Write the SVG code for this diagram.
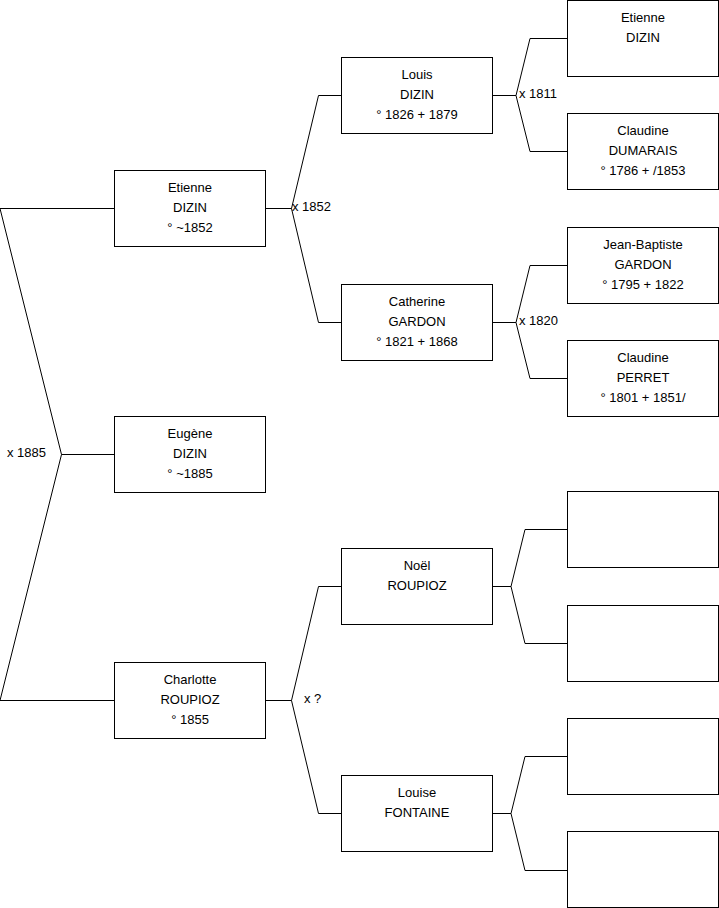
<svg xmlns="http://www.w3.org/2000/svg" width="719" height="908" viewBox="0 0 719 908">
<style>
.box{fill:#fff;stroke:#000;stroke-width:1}
.c{fill:none;stroke:#000;stroke-width:1}
text{font-family:"Liberation Sans",Arial,sans-serif;font-size:13px;fill:#000}
.t{text-anchor:middle}
</style>
<rect width="719" height="908" fill="#fff"/>
<g id="connectors">
<path class="c" d="M0,208.5 H114.5 M0,208.5 L61.5,454.5 L0,700.5 H114.5 M61.5,454.5 H114.5"/>
<path class="c" d="M265.5,208.5 H291.5 M341.5,95.5 H318.5 L291.5,208.5 L318.5,322.5 H341.5"/>
<path class="c" d="M265.5,700.5 H291.5 M341.5,586.5 H318.5 L291.5,700.5 L318.5,813.5 H341.5"/>
<path class="c" d="M492.5,95.5 H516 M567.5,38.5 H530 L516,95.5 L530,151.5 H567.5"/>
<path class="c" d="M492.5,322.5 H516 M567.5,265.5 H530 L516,322.5 L530,378.5 H567.5"/>
<path class="c" d="M492.5,586.5 H511 M567.5,529.5 H525 L511,586.5 L525,643.5 H567.5"/>
<path class="c" d="M492.5,813.5 H511 M567.5,756.5 H525 L511,813.5 L525,870.5 H567.5"/>
<text x="7" y="457">x 1885</text>
<text x="292" y="211">x 1852</text>
<text x="304" y="703">x ?</text>
<text x="519" y="98">x 1811</text>
<text x="519" y="325">x 1820</text>
</g>
<g id="n-etienne1">
<rect class="box" x="114.5" y="170.5" width="151" height="76"/>
<text class="t" x="190" y="192">Etienne</text>
<text class="t" x="190" y="212">DIZIN</text>
<text class="t" x="190" y="232">° ~1852</text>
</g>
<g id="n-eugene">
<rect class="box" x="114.5" y="416.5" width="151" height="76"/>
<text class="t" x="190" y="438">Eugène</text>
<text class="t" x="190" y="458">DIZIN</text>
<text class="t" x="190" y="478">° ~1885</text>
</g>
<g id="n-charlotte">
<rect class="box" x="114.5" y="662.5" width="151" height="76"/>
<text class="t" x="190" y="684">Charlotte</text>
<text class="t" x="190" y="704">ROUPIOZ</text>
<text class="t" x="190" y="724">° 1855</text>
</g>
<g id="n-louis">
<rect class="box" x="341.5" y="57.5" width="151" height="76"/>
<text class="t" x="417" y="79">Louis</text>
<text class="t" x="417" y="99">DIZIN</text>
<text class="t" x="417" y="119">° 1826 + 1879</text>
</g>
<g id="n-catherine">
<rect class="box" x="341.5" y="284.5" width="151" height="76"/>
<text class="t" x="417" y="306">Catherine</text>
<text class="t" x="417" y="326">GARDON</text>
<text class="t" x="417" y="346">° 1821 + 1868</text>
</g>
<g id="n-noel">
<rect class="box" x="341.5" y="548.5" width="151" height="76"/>
<text class="t" x="417" y="570">Noël</text>
<text class="t" x="417" y="590">ROUPIOZ</text>
</g>
<g id="n-louise">
<rect class="box" x="341.5" y="775.5" width="151" height="76"/>
<text class="t" x="417" y="797">Louise</text>
<text class="t" x="417" y="817">FONTAINE</text>
</g>
<g id="n-etienne2">
<rect class="box" x="567.5" y="0.5" width="151" height="76"/>
<text class="t" x="643" y="22">Etienne</text>
<text class="t" x="643" y="42">DIZIN</text>
</g>
<g id="n-claudine-d">
<rect class="box" x="567.5" y="113.5" width="151" height="76"/>
<text class="t" x="643" y="135">Claudine</text>
<text class="t" x="643" y="155">DUMARAIS</text>
<text class="t" x="643" y="175">° 1786 + /1853</text>
</g>
<g id="n-jean-baptiste">
<rect class="box" x="567.5" y="227.5" width="151" height="76"/>
<text class="t" x="643" y="249">Jean-Baptiste</text>
<text class="t" x="643" y="269">GARDON</text>
<text class="t" x="643" y="289">° 1795 + 1822</text>
</g>
<g id="n-claudine-p">
<rect class="box" x="567.5" y="340.5" width="151" height="76"/>
<text class="t" x="643" y="362">Claudine</text>
<text class="t" x="643" y="382">PERRET</text>
<text class="t" x="643" y="402">° 1801 + 1851/</text>
</g>
<g id="n-empty1"><rect class="box" x="567.5" y="491.5" width="151" height="76"/></g>
<g id="n-empty2"><rect class="box" x="567.5" y="605.5" width="151" height="76"/></g>
<g id="n-empty3"><rect class="box" x="567.5" y="718.5" width="151" height="76"/></g>
<g id="n-empty4"><rect class="box" x="567.5" y="831.5" width="151" height="76"/></g>
</svg>
